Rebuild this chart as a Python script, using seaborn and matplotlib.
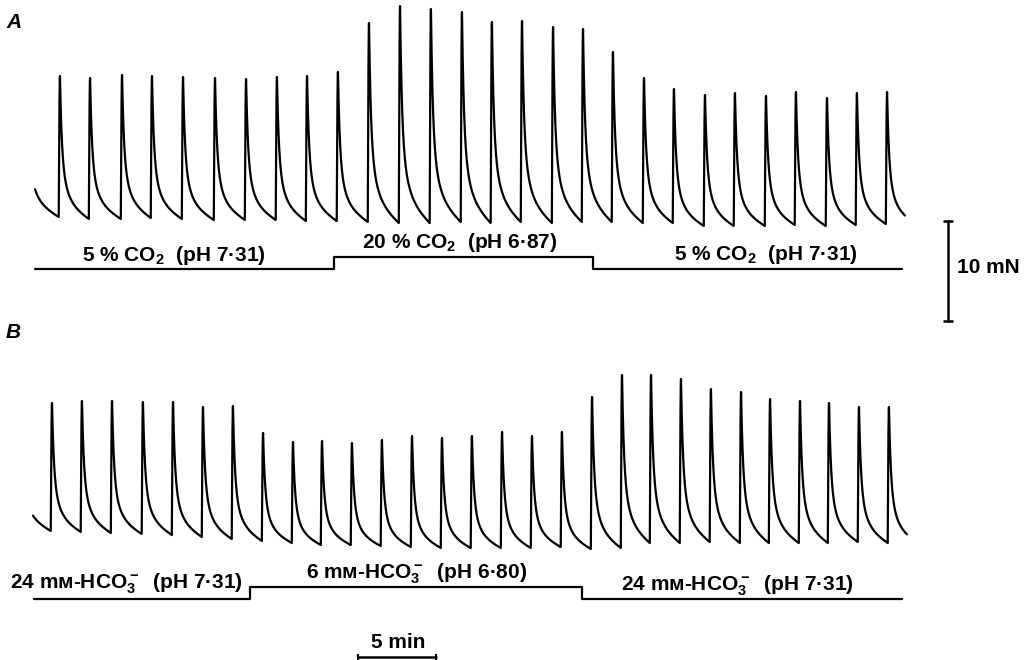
import numpy as np
import pandas as pd
import matplotlib
matplotlib.use("Agg")
import matplotlib.pyplot as plt
import seaborn as sns

# ---------------- data ----------------
# Trace A: twitch peak times (min), peak tension (mN), resting tension (mN)
A_peak_time = [-0.50, 1.60, 3.53, 5.58, 7.50, 9.49, 11.54, 13.53, 15.51, 17.44,
               19.42, 21.41, 23.40, 25.38, 27.37, 29.29, 31.22, 33.21, 35.13,
               37.05, 39.04, 40.96, 42.95, 44.87, 46.86, 48.78, 50.77, 52.69, 54.62]
A_peak = [15.3, 15.4, 15.2, 15.5, 15.4, 15.3, 15.2, 15.1, 15.3, 15.4,
          15.8, 20.7, 22.4, 22.1, 21.8, 20.8, 20.9, 20.3, 20.1,
          17.8, 15.2, 14.1, 13.5, 13.7, 13.4, 13.8, 13.2, 13.7, 13.8]
A_rest = [1.3, 1.3, 1.1, 1.1, 1.2, 1.1, 1.0, 1.0, 1.0, 0.9, 0.9,
          0.8, 0.7, 0.7, 0.8, 0.7, 0.8, 0.7, 0.8, 0.8,
          0.7, 0.7, 0.4, 0.4, 0.4, 0.5, 0.4, 0.5, 0.6, 0.5]
A_record = [0.0, 55.77]            # start / end of recording (min)
A_switch = [19.17, 35.77]          # solution changes (min)
A_labels = ["5 % CO$_2$  (pH 7·31)", "20 % CO$_2$  (pH 6·87)", "5 % CO$_2$  (pH 7·31)"]

# Trace B
B_peak_time = [-0.92, 1.09, 3.01, 4.94, 6.92, 8.85, 10.77, 12.69, 14.62, 16.54,
               18.40, 20.32, 22.24, 24.17, 26.09, 28.01, 29.94, 31.86, 33.78,
               35.71, 37.63, 39.49, 41.41, 43.33, 45.26, 47.12, 49.04, 50.90,
               52.82, 54.74]
B_peak = [14.5, 14.7, 14.9, 14.9, 14.8, 14.8, 14.3, 14.4, 11.7, 10.8,
          10.9, 10.7, 11.0, 11.4, 11.2, 11.4, 11.8, 11.4, 11.8,
          15.3, 17.5, 17.5, 17.1, 16.1, 15.8, 15.1, 14.9, 14.7, 14.3, 14.3]
B_rest = [1.9, 1.9, 1.8, 1.7, 1.6, 1.5, 1.3, 1.1, 0.9, 0.7, 0.5,
          0.5, 0.4, 0.3, 0.2, 0.2, 0.2, 0.2, 0.3, 0.1, 0.2,
          0.7, 0.7, 0.8, 0.7, 0.7, 0.7, 0.7, 0.8, 0.7, 0.6]
B_record = [-0.13, 55.90]
B_switch = [13.78, 35.06]
B_labels = ["24 mᴍ-HCO$_3^-$  (pH 7·31)", "6 mᴍ-HCO$_3^-$  (pH 6·80)",
            "24 mᴍ-HCO$_3^-$  (pH 7·31)"]

force_bar = 10   # mN
time_bar = 5     # min

# ---------------- style ----------------
sns.set_style("white")
plt.rcParams["font.family"] = ["Liberation Sans", "DejaVu Sans"]
plt.rcParams["font.weight"] = "bold"
plt.rcParams["text.color"] = "black"
plt.rcParams["mathtext.fontset"] = "custom"
plt.rcParams["mathtext.rm"] = "Liberation Sans:bold"
plt.rcParams["mathtext.bf"] = "Liberation Sans:bold"
plt.rcParams["mathtext.it"] = "Liberation Sans:bold:italic"
plt.rcParams["mathtext.default"] = "rm"

W, H = 1030, 660
PX_PER_MIN = 15.6
PX_PER_MN = 10.0
X0 = 35  # pixel of t = 0

fig = plt.figure(figsize=(W / 100, H / 100), dpi=100)
ax = fig.add_axes([0, 0, 1, 1])
ax.set_xlim(-X0 / PX_PER_MIN, (W - X0) / PX_PER_MIN)
ax.set_ylim(0, H / PX_PER_MN)
ax.axis("off")


def ydat(ypx):
    return (H - ypx) / PX_PER_MN


def relax_shape(d, D):
    f = lambda x: (0.56 * np.exp(-x / 0.12) + 0.31 * np.exp(-x / 0.42)
                   + 0.13 * np.clip(1 - x / D, 0, 1))
    fD = f(D)
    return (f(d) - fD) / (1 - fD)


def build_trace(pt, pv, rv, rec, rise=0.08, step=0.004):
    ts, ys = [], []
    n = len(pt)
    for i in range(n):
        s = pt[i] - rise
        e = pt[i + 1] - rise if i + 1 < n else rec[1]
        D = (pt[i + 1] - rise - pt[i]) if i + 1 < n else 1.96
        tt = np.arange(s, e, step)
        d = tt - pt[i]
        up = rv[i] + (pv[i] - rv[i]) * np.sin(0.5 * np.pi * np.clip((tt - s) / rise, 0, 1))
        down = rv[i + 1] + (pv[i] - rv[i + 1]) * relax_shape(np.clip(d, 0, None), D)
        ys.append(np.where(d < 0, up, down))
        ts.append(tt)
    t = np.concatenate(ts)
    y = np.concatenate(ys)
    m = (t >= rec[0]) & (t <= rec[1])
    return t[m], y[m]


def step_line(sw, rec, end):
    x = [rec[0], sw[0], sw[0], sw[1], sw[1], end]
    y = [0, 0, 1, 1, 0, 0]
    return np.array(x), np.array(y, dtype=float)


LW = 1.6
# trace offsets (layout)
offA, offB = ydat(230), ydat(550)
tA, fA = build_trace(A_peak_time, A_peak, A_rest, A_record)
tB, fB = build_trace(B_peak_time, B_peak, B_rest, B_record)
dfA = pd.DataFrame({"t": tA, "f": fA + offA})
dfB = pd.DataFrame({"t": tB, "f": fB + offB})
sns.lineplot(data=dfA, x="t", y="f", ax=ax, color="black", lw=LW,
             estimator=None, sort=False)
sns.lineplot(data=dfB, x="t", y="f", ax=ax, color="black", lw=LW,
             estimator=None, sort=False)

# solution bars (step lines)
line_end = 55.58
sx, sy = step_line(A_switch, A_record, line_end)
ax.plot(sx, ydat(269) + sy * 1.2, color="black", lw=LW)
sx, sy = step_line(B_switch, [-0.06, 0], line_end)
ax.plot(sx, ydat(599) + sy * 1.2, color="black", lw=LW)

# scale bars
xb = (948 - X0) / PX_PER_MIN
yb0 = ydat(321)
ax.plot([xb, xb], [yb0, yb0 + force_bar], color="black", lw=1.8,
        marker="_", ms=7, mew=1.8)
tb0 = (358 - X0) / PX_PER_MIN
ax.plot([tb0, tb0 + time_bar], [ydat(657), ydat(657)], color="black", lw=1.8,
        marker="|", ms=4, mew=1.5)


def ptext(xpx, ypx, s, ha="center", size=15, style="normal"):
    fig.text(xpx / W, 1 - ypx / H, s, ha=ha, va="baseline", fontsize=size,
             fontweight="bold", fontstyle=style, color="black")


ptext(174, 261, A_labels[0])
ptext(460, 248, A_labels[1])
ptext(766, 260, A_labels[2])
ptext(126, 588, B_labels[0])
ptext(417, 578, B_labels[1])
ptext(737, 590, B_labels[2])
ptext(957, 273, "10 mN", ha="left")
ptext(398, 648, "5 min")
ptext(6, 28, "A", ha="left", size=15, style="italic")
ptext(6, 338, "B", ha="left", size=15, style="italic")

fig.savefig("out.png", dpi=100, facecolor="white")
